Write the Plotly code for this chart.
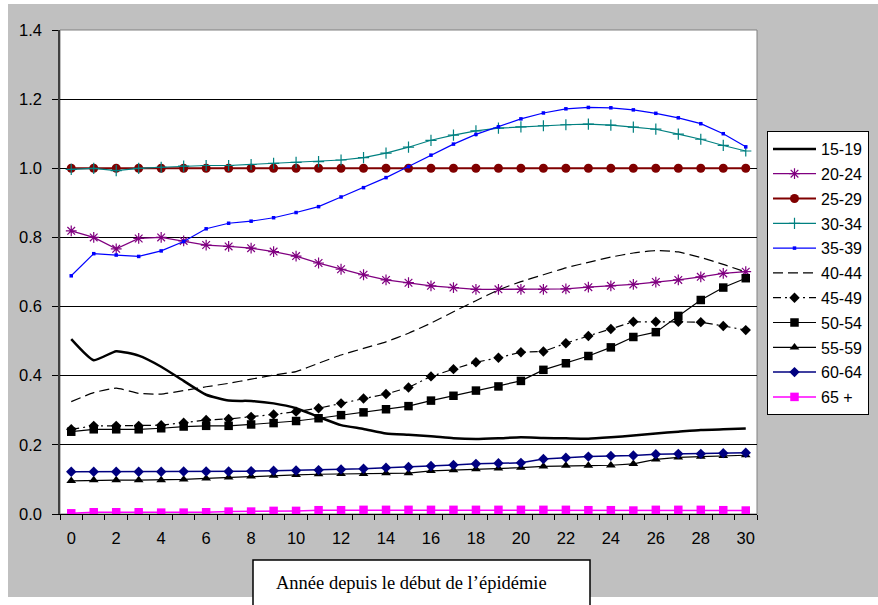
import plotly.graph_objects as go

years = list(range(0, 31))
tick_years = list(range(0, 31, 2))
y_ticks = [0.0, 0.2, 0.4, 0.6, 0.8, 1.0, 1.2, 1.4]

age_15_19 = [0.506, 0.445, 0.471, 0.458, 0.426, 0.385, 0.345, 0.328, 0.327, 0.320, 0.306, 0.281, 0.257, 0.246, 0.233, 0.229,
             0.225, 0.219, 0.217, 0.219, 0.222, 0.220, 0.219, 0.218, 0.222, 0.227, 0.233, 0.238, 0.243, 0.245, 0.247]
age_20_24 = [0.819, 0.800, 0.767, 0.797, 0.800, 0.790, 0.778, 0.774, 0.769, 0.759, 0.746, 0.726, 0.708, 0.692, 0.677, 0.669,
             0.660, 0.655, 0.650, 0.650, 0.650, 0.650, 0.651, 0.656, 0.660, 0.664, 0.671, 0.677, 0.686, 0.696, 0.701]
age_25_29 = [1.0, 1.0, 1.0, 1.0, 1.0, 1.0, 1.0, 1.0, 1.0, 1.0, 1.0, 1.0, 1.0, 1.0, 1.0, 1.0,
             1.0, 1.0, 1.0, 1.0, 1.0, 1.0, 1.0, 1.0, 1.0, 1.0, 1.0, 1.0, 1.0, 1.0, 1.0]
age_30_34 = [0.997, 1.000, 0.993, 1.000, 1.003, 1.006, 1.008, 1.008, 1.011, 1.014, 1.017, 1.019, 1.024, 1.031, 1.044, 1.061,
             1.081, 1.096, 1.108, 1.116, 1.120, 1.123, 1.126, 1.128, 1.125, 1.119, 1.113, 1.099, 1.084, 1.066, 1.050]
age_35_39 = [0.689, 0.753, 0.749, 0.745, 0.761, 0.788, 0.825, 0.841, 0.847, 0.857, 0.872, 0.889, 0.917, 0.944, 0.973, 1.005,
             1.038, 1.070, 1.098, 1.120, 1.143, 1.160, 1.172, 1.176, 1.175, 1.169, 1.159, 1.146, 1.129, 1.100, 1.062]
age_40_44 = [0.325, 0.351, 0.364, 0.349, 0.347, 0.357, 0.368, 0.378, 0.390, 0.402, 0.412, 0.436, 0.460, 0.479, 0.498, 0.523,
             0.552, 0.585, 0.617, 0.648, 0.672, 0.692, 0.712, 0.728, 0.743, 0.755, 0.762, 0.758, 0.742, 0.722, 0.700]
age_45_49 = [0.245, 0.255, 0.255, 0.255, 0.257, 0.264, 0.272, 0.275, 0.281, 0.288, 0.296, 0.306, 0.320, 0.334, 0.347, 0.366,
             0.398, 0.419, 0.439, 0.452, 0.468, 0.470, 0.494, 0.515, 0.535, 0.556, 0.556, 0.556, 0.555, 0.544, 0.532]
age_50_54 = [0.238, 0.245, 0.245, 0.245, 0.248, 0.253, 0.255, 0.255, 0.259, 0.263, 0.269, 0.277, 0.286, 0.294, 0.303, 0.312,
             0.328, 0.342, 0.357, 0.369, 0.385, 0.417, 0.436, 0.457, 0.482, 0.512, 0.526, 0.573, 0.619, 0.655, 0.682]
age_55_59 = [0.096, 0.098, 0.098, 0.098, 0.098, 0.100, 0.103, 0.106, 0.109, 0.111, 0.113, 0.115, 0.116, 0.116, 0.118, 0.118,
             0.125, 0.127, 0.130, 0.132, 0.134, 0.138, 0.140, 0.140, 0.141, 0.145, 0.158, 0.164, 0.166, 0.168, 0.170]
age_60_64 = [0.122, 0.122, 0.122, 0.122, 0.122, 0.123, 0.123, 0.123, 0.124, 0.125, 0.126, 0.127, 0.129, 0.131, 0.134, 0.136,
             0.139, 0.142, 0.145, 0.147, 0.148, 0.159, 0.163, 0.166, 0.168, 0.169, 0.173, 0.174, 0.174, 0.176, 0.177]
age_65_plus = [0.002, 0.005, 0.005, 0.005, 0.004, 0.004, 0.005, 0.007, 0.007, 0.009, 0.009, 0.011, 0.011, 0.012, 0.012, 0.012,
               0.012, 0.012, 0.012, 0.012, 0.012, 0.012, 0.012, 0.011, 0.011, 0.010, 0.012, 0.012, 0.012, 0.011, 0.010]

x_title = "Année depuis le début de l’épidémie"

W, H = 878, 605
L, R, T, B = 60, 757, 30, 514  # plot area in pixels


def px(x):
    return (x - L) / (R - L)


def py(y):
    return (B - y) / (B - T)


series = [
    ("15-19", age_15_19, dict(color="#000000", width=2.5), None, "spline"),
    ("20-24", age_20_24, dict(color="#800080", width=1.3),
     dict(symbol="asterisk-open", size=9, color="#800080", line=dict(width=1.2, color="#800080")), "linear"),
    ("25-29", age_25_29, dict(color="#800000", width=2),
     dict(symbol="circle", size=9, color="#800000"), "linear"),
    ("30-34", age_30_34, dict(color="#008080", width=1.2),
     dict(symbol="cross-thin-open", size=8, color="#008080", line=dict(width=1.2, color="#008080")), "linear"),
    ("35-39", age_35_39, dict(color="#0000FF", width=1.2),
     dict(symbol="square", size=3.5, color="#0000FF"), "linear"),
    ("40-44", age_40_44, dict(color="#000000", width=1.2, dash="10px,5px"), None, "spline"),
    ("45-49", age_45_49, dict(color="#000000", width=1.2, dash="8px,4px,2px,4px"),
     dict(symbol="diamond", size=8, color="#000000"), "linear"),
    ("50-54", age_50_54, dict(color="#000000", width=1.2),
     dict(symbol="square", size=8.5, color="#000000"), "linear"),
    ("55-59", age_55_59, dict(color="#000000", width=1.2),
     dict(symbol="triangle-up", size=8.5, color="#000000"), "linear"),
    ("60-64", age_60_64, dict(color="#000080", width=1.5),
     dict(symbol="diamond", size=8, color="#000080"), "linear"),
    ("65 +", age_65_plus, dict(color="#FF00FF", width=1.5),
     dict(symbol="square", size=8.5, color="#FF00FF"), "linear"),
]

fig = go.Figure()
for name, vals, line, marker, shape in series:
    line = dict(line)
    line["shape"] = shape
    if shape == "spline":
        line["smoothing"] = 0.5
    kw = dict(x=years, y=vals, name=name, line=line, legendgroup=name)
    if marker is None:
        kw["mode"] = "lines"
    else:
        kw["mode"] = "lines+markers"
        kw["marker"] = marker
    fig.add_trace(go.Scatter(**kw))

shapes = [
    # grey chart area
    dict(type="rect", xref="paper", yref="paper", x0=px(8), x1=px(880), y0=py(597), y1=py(4),
         fillcolor="#C0C0C0", line=dict(width=0), layer="below"),
    # white plot area with grey border
    dict(type="rect", xref="paper", yref="paper", x0=0, x1=1, y0=0, y1=1,
         fillcolor="#FFFFFF", line=dict(width=1, color="#808080"), layer="below"),
    # axis title box
    dict(type="rect", xref="paper", yref="paper", x0=px(253), x1=px(590), y0=py(615), y1=py(560),
         fillcolor="#FFFFFF", line=dict(width=1.5, color="#000000"), layer="above"),
]

fig.update_layout(
    width=W, height=H,
    margin=dict(l=L, r=W - R, t=T, b=H - B, pad=0, autoexpand=False),
    paper_bgcolor="#FFFFFF",
    plot_bgcolor="rgba(0,0,0,0)",
    font=dict(family="Liberation Sans, Arial, sans-serif", size=14, color="#000000"),
    showlegend=True,
    legend=dict(
        x=px(767), y=py(131), xanchor="left", yanchor="top",
        bgcolor="#FFFFFF", bordercolor="#000000", borderwidth=1,
        font=dict(size=16, family="Liberation Sans, Arial, sans-serif"),
        traceorder="grouped", tracegroupgap=1, itemwidth=43,
    ),
    shapes=shapes,
    annotations=[
        dict(text=x_title, xref="paper", yref="paper", x=px(274), y=py(583),
             xanchor="left", yanchor="middle", showarrow=False,
             font=dict(family="Liberation Serif, Times New Roman, serif", size=18.5, color="#000000")),
    ],
)

fig.update_xaxes(
    range=[-0.5, 30.5], tickmode="array", tickvals=tick_years, ticktext=[str(v) for v in tick_years],
    ticks="", showgrid=False, zeroline=False, showline=True, linecolor="#000000", linewidth=1,
    minor=dict(tickmode="linear", tick0=-0.5, dtick=1, ticks="outside", ticklen=5, tickcolor="#000000", showgrid=False),
    tickfont=dict(size=16.5), ticklabelstandoff=9,
)
fig.update_yaxes(
    range=[0, 1.4], tickmode="array", tickvals=y_ticks, ticktext=[f"{v:.1f}" for v in y_ticks],
    ticks="outside", ticklen=6, tickcolor="#000000", showgrid=True, gridcolor="#000000", gridwidth=1,
    zeroline=False, showline=True, linecolor="#404040", linewidth=1.5,
    tickfont=dict(size=16.5), ticklabelstandoff=7,
)

fig.write_html("out.html")
